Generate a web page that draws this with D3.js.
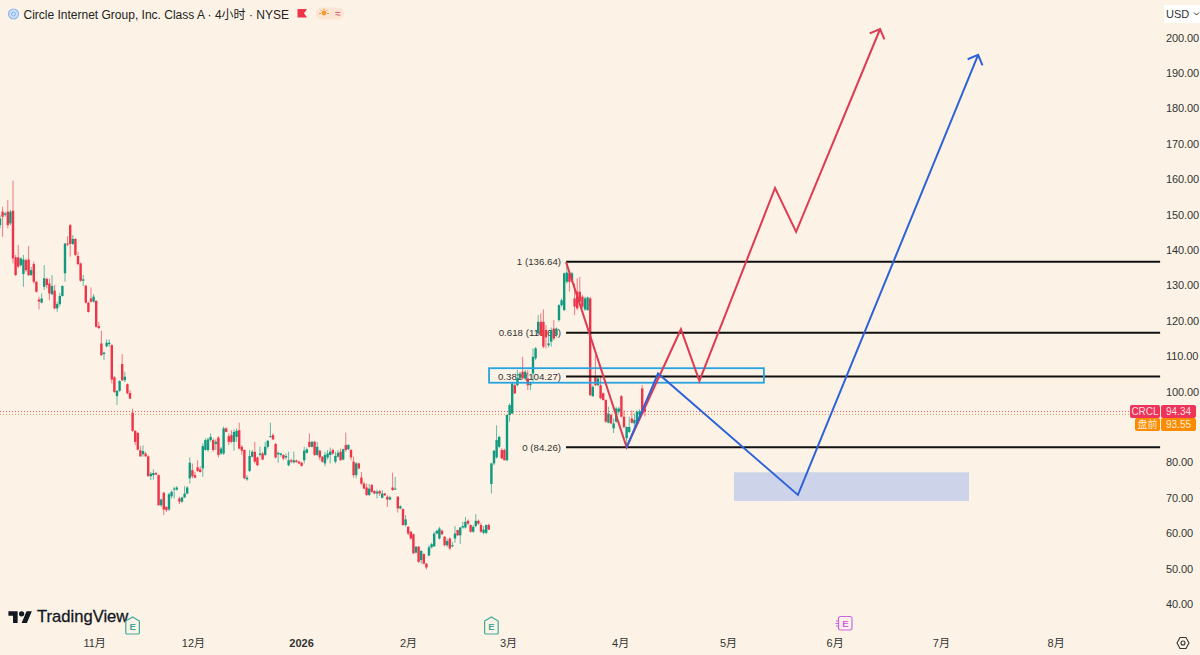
<!DOCTYPE html>
<html>
<head>
<meta charset="utf-8">
<script src="https://cdn.jsdelivr.net/npm/d3@7"></script>
<style>
  html, body { margin: 0; padding: 0; background: #fcf3e6; }
  svg { display: block; }
  text { font-family: "Liberation Sans", "Noto Sans CJK SC", sans-serif; }
</style>
</head>
<body>
<script>
// OHLC of the 4h bars, ten per row
const barOpen = [
  147.0,150.8,149.9,150.8,147.5,151.1,137.9,137.9,135.7,133.2,
  137.1,137.3,132.9,136.0,131.0,126.0,125.1,129.6,131.8,130.5,
  127.5,128.5,123.5,124.7,127.0,133.4,141.8,147.0,141.7,143.1,
  138.3,136.2,131.3,129.9,125.1,126.3,125.4,125.6,118.5,113.6,
  110.6,112.8,113.4,113.1,104.0,98.7,100.2,107.8,103.2,102.1,
  99.6,94.0,88.9,88.3,83.4,82.3,82.5,81.7,76.1,76.4,
  77.0,76.4,67.9,71.4,67.4,66.7,70.4,72.3,72.3,69.8,
  68.9,70.1,71.2,75.5,77.8,76.4,78.6,78.0,78.3,83.5,
  83.5,86.3,86.3,85.2,87.0,82.5,82.5,89.6,87.4,87.7,
  85.8,87.2,89.1,84.4,83.5,75.2,77.6,81.6,83.0,81.4,
  82.1,82.5,82.1,84.4,87.2,87.7,85.2,82.3,82.1,82.1,
  81.4,79.2,80.6,80.0,80.5,80.2,79.9,80.6,82.7,85.8,
  84.4,85.8,82.1,83.3,81.6,79.7,81.4,82.1,83.5,80.2,
  81.6,83.0,80.8,84.9,83.7,83.5,80.2,76.4,79.7,75.7,
  74.0,72.9,70.8,73.6,71.9,71.2,71.9,70.0,71.2,70.3,
  69.5,72.9,72.4,70.3,67.0,66.8,62.3,61.8,60.4,59.7,
  54.5,56.2,52.4,54.1,51.4,53.7,56.0,56.3,59.9,58.5,
  60.7,59.0,56.6,58.5,56.3,58.5,60.9,59.4,61.6,61.6,
  63.5,62.3,60.4,62.0,63.5,62.3,60.1,60.1,62.3,73.9,
  79.7,81.4,84.4,83.5,83.5,80.6,93.4,93.8,101.8,101.8,
  103.7,105.6,103.7,103.7,101.8,105.1,109.4,116.4,119.7,119.7,
  117.4,113.1,114.1,117.8,116.0,120.2,124.4,123.0,131.0,133.4,
  131.5,126.3,128.2,128.2,126.8,123.2,123.0,126.3,98.7,104.2,
  101.8,101.8,99.5,97.6,91.2,93.4,89.6,91.5,94.3,98.7,
  92.9,86.8,88.6,92.4,91.0,91.0,93.4,100.9,95.2
];
const barHigh = [
  149.8,152.2,150.8,154.1,151.3,159.6,138.6,141.4,137.9,138.6,
  137.6,141.1,135.2,136.7,131.2,126.8,127.7,135.7,132.2,131.9,
  132.9,130.1,125.4,127.9,130.1,142.0,143.9,147.3,144.2,143.3,
  139.5,136.4,132.9,130.1,125.4,129.4,127.5,125.8,119.7,117.2,
  111.2,114.7,114.7,113.4,104.4,100.4,103.2,110.6,105.6,102.3,
  100.4,95.2,89.1,88.6,84.6,84.8,83.0,82.0,77.3,78.0,
  77.3,76.6,69.8,71.7,67.6,71.4,72.1,73.1,73.3,70.3,
  70.3,73.3,73.3,81.4,79.7,77.3,80.6,78.9,85.4,86.8,
  87.0,88.2,86.8,86.5,87.4,84.4,90.1,89.9,88.2,89.1,
  89.3,89.6,91.2,84.9,83.7,76.4,83.5,83.5,85.8,81.6,
  84.4,83.0,85.8,86.3,91.2,88.2,85.5,83.0,82.7,82.3,
  82.5,83.0,81.1,83.0,80.8,80.5,80.2,84.4,84.2,88.2,
  86.1,86.1,85.8,83.5,81.8,83.0,83.5,84.2,83.9,83.0,
  83.5,83.9,83.9,88.4,85.2,83.7,81.6,80.1,79.9,77.3,
  74.5,74.0,73.9,73.9,72.2,72.3,72.2,72.2,71.4,70.7,
  70.5,77.1,75.9,70.5,67.9,67.0,65.1,62.0,60.6,59.9,
  56.3,56.3,55.2,54.3,51.6,56.6,57.3,60.3,60.9,61.8,
  61.0,59.2,58.5,58.8,57.6,62.0,61.0,61.8,63.2,64.6,
  63.9,62.5,62.3,65.4,63.9,62.9,62.0,62.5,62.7,79.9,
  83.5,90.5,87.5,84.0,83.9,93.5,96.7,102.5,102.3,106.1,
  105.6,109.8,106.1,106.1,102.8,112.2,112.6,121.6,122.1,123.2,
  118.8,116.4,118.1,120.2,118.1,124.7,126.3,133.6,136.6,133.6,
  133.8,130.5,132.0,132.4,127.3,126.8,126.8,126.8,101.8,110.3,
  104.4,104.4,99.7,97.8,95.7,93.8,92.4,95.7,95.7,99.0,
  94.7,90.2,92.9,94.7,93.8,94.7,95.0,101.8,96.0
];
const barLow = [
  146.1,143.7,149.4,146.1,147.0,136.2,132.6,134.8,135.3,129.6,
  133.8,132.6,132.6,130.5,127.9,123.2,124.9,128.7,129.1,125.8,
  127.2,123.2,122.5,124.1,126.8,131.0,141.1,138.1,141.4,138.3,
  135.7,131.0,129.8,124.9,122.3,125.1,125.1,118.1,117.8,110.0,
  108.9,112.5,112.6,102.3,99.6,96.2,99.9,103.0,102.7,99.3,
  97.9,88.6,84.8,83.4,81.6,81.6,81.6,75.9,75.0,75.1,
  76.4,67.7,67.4,65.1,66.0,66.3,69.8,69.8,72.0,68.2,
  68.6,69.9,71.0,74.0,75.5,75.5,77.3,77.1,75.9,83.3,
  83.0,85.8,83.0,83.5,81.4,82.1,82.1,88.5,84.9,85.4,
  83.3,85.8,83.7,82.1,75.2,74.8,77.3,81.4,79.7,78.9,
  81.6,80.6,81.8,83.9,87.0,86.3,81.1,79.9,81.6,80.6,
  80.8,78.9,79.7,79.7,79.9,79.5,78.8,79.7,82.5,84.2,
  84.2,81.8,81.8,80.6,79.9,78.9,80.8,79.7,82.1,79.7,
  81.4,80.5,80.6,83.0,83.5,80.6,75.7,75.5,78.0,73.6,
  72.4,70.5,70.5,71.4,71.0,69.8,70.5,69.8,70.5,67.4,
  69.3,71.9,72.2,65.8,66.7,62.1,61.8,59.4,58.2,54.1,
  54.3,51.6,51.4,51.2,49.8,53.5,55.7,56.1,59.7,58.2,
  59.4,56.3,56.1,55.2,56.0,57.3,59.2,56.9,61.3,61.3,
  62.3,60.1,60.1,61.6,62.3,60.1,59.7,59.7,60.9,71.2,
  79.2,81.1,84.0,81.0,80.6,80.3,91.5,93.6,99.3,101.5,
  103.4,103.4,103.2,100.4,100.4,102.8,108.9,115.9,115.7,112.2,
  112.2,112.5,112.7,114.5,115.3,119.7,124.0,122.8,130.5,128.2,
  131.0,121.6,123.0,124.9,123.5,122.8,122.8,98.7,98.5,101.5,
  101.5,97.8,97.4,91.2,91.0,90.8,88.3,91.2,93.8,92.7,
  89.6,84.4,88.3,91.0,88.6,90.5,92.9,93.6,93.0
];
const barClose = [
  148.9,149.4,150.3,147.0,150.8,137.6,132.9,135.3,137.6,137.3,
  134.3,132.9,134.3,131.0,128.2,125.4,126.3,132.0,130.1,127.7,
  129.8,123.5,124.7,127.0,129.8,141.8,141.5,141.7,143.1,138.6,
  136.0,131.3,131.7,125.1,122.5,125.4,126.8,118.3,117.9,110.3,
  111.0,113.8,113.8,103.4,99.9,100.2,103.0,103.2,104.2,99.5,
  98.0,88.9,85.8,83.6,81.7,83.2,81.7,76.1,76.8,77.0,
  76.6,67.9,69.5,66.7,66.5,71.0,71.7,72.6,72.9,68.9,
  70.1,71.2,72.9,79.9,76.1,75.7,77.6,77.3,84.6,86.3,
  86.5,87.2,83.5,85.8,82.1,83.9,89.6,88.6,85.8,85.8,
  88.6,88.9,83.9,83.3,75.5,75.7,81.8,83.0,80.2,79.2,
  82.5,80.8,84.4,86.1,87.4,86.5,81.4,82.7,82.5,81.1,
  81.8,80.6,80.2,80.6,80.1,79.7,79.0,83.3,83.7,84.4,
  85.8,82.1,84.4,81.4,80.2,82.1,82.5,83.0,82.5,81.8,
  82.7,80.6,83.7,83.5,84.9,81.4,76.4,79.7,78.3,74.0,
  72.6,70.8,72.6,71.7,71.2,71.7,71.2,71.2,70.7,69.5,
  70.1,72.2,72.6,67.0,67.6,62.3,63.9,59.9,58.5,54.3,
  56.2,51.9,55.0,51.4,50.3,56.0,56.9,59.9,60.7,61.3,
  59.7,56.6,57.8,55.7,56.6,59.9,59.4,61.6,62.0,63.2,
  62.7,60.4,61.8,63.5,62.7,60.4,61.0,62.3,61.0,79.7,
  83.3,86.3,87.2,81.1,80.6,93.4,96.2,102.3,99.5,103.7,
  105.1,103.7,105.6,101.8,102.3,109.8,112.2,119.7,115.9,112.7,
  115.3,113.6,117.4,115.0,117.8,124.4,125.8,133.4,133.6,131.0,
  133.4,124.0,123.5,125.4,124.0,126.3,126.6,99.0,101.3,101.8,
  103.7,98.1,97.6,91.5,93.8,91.0,91.0,95.2,95.2,92.9,
  90.0,90.0,90.0,91.2,92.0,94.3,94.5,93.8,94.34
];

// 90.00 sits under the price tags in the original, so it is left out
const priceTicks = [200,190,180,170,160,150,140,130,120,110,100,80,70,60,50,40];
const monthBars = [36.2,74.2,115.8,156.9,195.4,238.5,280,321,361.9,406];
const monthLabels = ["11月","12月","2026","2月","3月","4月","5月","6月","7月","8月"];

const fibLabels = ["1","0.618","0.382","0"];
const fibPrices = [136.64,116.63,104.27,84.26];
const fibBars = [217.7,446.2];

// hand drawn scenarios: bar index / price
const redBars = [217.7,241,261.9,269,298.1,306.2,338.5];
const redPrices = [136.64,84.26,117.6,103.0,157.5,145.1,202.4];
const blueBars = [241,253.1,306.9,376.2];
const bluePrices = [84.26,105.1,70.8,195.1];

const boxBars = [188.1,293.8];
const boxPrices = [106.6,102.5];
const zoneBars = [282.3,372.7];
const zonePrices = [77.2,69.1];

const lastPrice = 94.34;
const preMarketPrice = 93.55;
const earningsBars = [51,189];
const nextEarningsBar = 325;

const width = 1200, height = 655;
const UP = "#0f9a80", DOWN = "#ee3448", RED = "#de3a52", BLUE = "#2f62d8", INK = "#333";

const x = d3.scaleLinear().domain([0, 461.54]).range([0, 1200]);
const y = d3.scaleLinear().domain([40, 200]).range([604, 37.5]);

const svg = d3.select("body").append("svg")
  .attr("width", width).attr("height", height)
  .attr("viewBox", [0, 0, width, height]);

svg.append("rect").attr("width", width).attr("height", height).attr("fill", "#fcf3e6");

const defs = svg.append("defs");
[["arrow-red", RED], ["arrow-blue", BLUE]].forEach(([id, color]) => {
  defs.append("marker").attr("id", id)
    .attr("viewBox", "-10 -10 12 20").attr("refX", 0).attr("refY", 0)
    .attr("markerWidth", 12).attr("markerHeight", 20)
    .attr("markerUnits", "userSpaceOnUse").attr("orient", "auto")
    .append("path").attr("d", "M-8,-8L0,0L-8,8")
    .attr("fill", "none").attr("stroke", color).attr("stroke-width", 2);
});

// zone below the candles
svg.append("rect")
  .attr("x", x(zoneBars[0])).attr("y", y(zonePrices[0]))
  .attr("width", x(zoneBars[1]) - x(zoneBars[0]))
  .attr("height", y(zonePrices[1]) - y(zonePrices[0]))
  .attr("fill", "#cdd3e9");

// fib labels go under the candles, they get covered in the original
svg.append("g").selectAll("text").data(fibPrices).join("text")
  .attr("x", x(fibBars[0]) - 5)
  .attr("y", d => y(d) + 3.5)
  .attr("text-anchor", "end")
  .attr("font-size", 9.7)
  .attr("fill", INK)
  .text((d, i) => `${fibLabels[i]} (${d.toFixed(2)})`);

// last + premarket dotted lines
svg.append("line")
  .attr("x1", 0).attr("x2", 1130).attr("y1", y(lastPrice)).attr("y2", y(lastPrice))
  .attr("stroke", "#e2506a").attr("stroke-width", 1).attr("stroke-dasharray", "1 2");
svg.append("line")
  .attr("x1", 0).attr("x2", 1135).attr("y1", y(preMarketPrice)).attr("y2", y(preMarketPrice))
  .attr("stroke", "#f5a04a").attr("stroke-width", 1).attr("stroke-dasharray", "1 2");

const candles = svg.append("g").selectAll("g").data(barClose).join("g")
  .attr("fill", (d, i) => d >= barOpen[i] ? UP : DOWN)
  .attr("stroke", (d, i) => d >= barOpen[i] ? UP : DOWN);

candles.append("line")
  .attr("x1", (d, i) => x(i)).attr("x2", (d, i) => x(i))
  .attr("y1", (d, i) => y(barHigh[i])).attr("y2", (d, i) => y(barLow[i]))
  .attr("stroke-width", 1).attr("stroke-opacity", 0.65);

candles.append("rect")
  .attr("x", (d, i) => x(i) - 1.2)
  .attr("width", 2.4)
  .attr("y", (d, i) => y(Math.max(d, barOpen[i])))
  .attr("height", (d, i) => Math.max(1, Math.abs(y(d) - y(barOpen[i]))))
  .attr("stroke", "none");

// fib lines
svg.append("g").selectAll("line").data(fibPrices).join("line")
  .attr("x1", x(fibBars[0])).attr("x2", x(fibBars[1]))
  .attr("y1", d => y(d)).attr("y2", d => y(d))
  .attr("stroke", "#111").attr("stroke-width", 2);

// sky box
svg.append("rect")
  .attr("x", x(boxBars[0])).attr("y", y(boxPrices[0]))
  .attr("width", x(boxBars[1]) - x(boxBars[0]))
  .attr("height", y(boxPrices[1]) - y(boxPrices[0]))
  .attr("fill", "none").attr("stroke", "#27a3e0").attr("stroke-width", 1.8);

const line = d3.line().x(d => x(d[0])).y(d => y(d[1]));

svg.append("path")
  .attr("d", line(d3.zip(redBars, redPrices)))
  .attr("fill", "none").attr("stroke", RED).attr("stroke-width", 2)
  .attr("marker-end", "url(#arrow-red)");

svg.append("path")
  .attr("d", line(d3.zip(blueBars, bluePrices)))
  .attr("fill", "none").attr("stroke", BLUE).attr("stroke-width", 2)
  .attr("marker-end", "url(#arrow-blue)");

// axes
const yAxis = svg.append("g")
  .attr("transform", "translate(1162,0)")
  .call(d3.axisRight(y).tickValues(priceTicks).tickSize(0).tickPadding(4).tickFormat(d => d.toFixed(2)));
yAxis.select(".domain").remove();
yAxis.selectAll("text").attr("font-size", 11).attr("fill", INK)
  .style("font-family", '"Liberation Sans"').attr("letter-spacing", -0.1);

const xAxis = svg.append("g")
  .attr("transform", "translate(0,639)")
  .call(d3.axisBottom(x).tickValues(monthBars).tickSize(0).tickPadding(0)
    .tickFormat((d, i) => monthLabels[i]));
xAxis.select(".domain").remove();
xAxis.selectAll("text")
  .attr("font-size", 11).attr("fill", INK)
  .style("font-family", '"Liberation Sans", "Noto Sans CJK SC"')
  .attr("font-weight", (d, i) => monthLabels[i] === "2026" ? 700 : 400);

// USD box
svg.append("rect").attr("x", 1164).attr("y", 5).attr("width", 36).attr("height", 18).attr("fill", "#fff");
svg.append("text").attr("x", 1166).attr("y", 18).attr("font-size", 11).attr("fill", INK).text("USD");
svg.append("path").attr("d", "M1194,12.5l2.5,2.5l2.5,-2.5").attr("fill", "none").attr("stroke", INK).attr("stroke-width", 1);

// last price tags
function priceTag(top, left, color, name, value) {
  svg.append("rect").attr("x", left).attr("y", top).attr("width", 1160 - left).attr("height", 13).attr("rx", 2).attr("fill", color);
  svg.append("rect").attr("x", 1161).attr("y", top).attr("width", 35).attr("height", 13).attr("rx", 2).attr("fill", color);
  svg.append("text").attr("x", (left + 1160) / 2).attr("y", top + 10).attr("text-anchor", "middle")
    .attr("font-size", 10).attr("fill", "#fff").attr("fill-opacity", 0.85).text(name);
  svg.append("text").attr("x", 1178.5).attr("y", top + 10).attr("text-anchor", "middle")
    .attr("font-size", 10).attr("fill", "#fff").attr("fill-opacity", 0.85).text(value.toFixed(2));
}
priceTag(405, 1130, "#ee3458", "CRCL", lastPrice);
priceTag(418, 1135, "#fb8c00", "盘前", preMarketPrice);

// title row
svg.append("circle").attr("cx", 13.5).attr("cy", 14).attr("r", 5).attr("fill", "#cfe0fb").attr("stroke", "#8fb8ee").attr("stroke-width", 1.2);
svg.append("circle").attr("cx", 13.5).attr("cy", 14).attr("r", 2).attr("fill", "none").attr("stroke", "#6fa8e8").attr("stroke-width", 0.8);
svg.append("text").attr("x", 23.5).attr("y", 18.5).attr("font-size", 12).attr("fill", "#222")
  .text("Circle Internet Group, Inc. Class A · 4小时 · NYSE");
svg.append("path").attr("d", "M297.5,9H307L304,13.2L307,17.5H297.5Z").attr("fill", "#ee3448");
svg.append("rect").attr("x", 316).attr("y", 7.5).attr("width", 28).attr("height", 12).attr("rx", 6).attr("fill", "#fbe5d4");
svg.append("circle").attr("cx", 324).attr("cy", 13).attr("r", 2.4).attr("fill", "#f79a2e");
svg.append("path").attr("d", "M319,13.5h2M327,13.5h2M324,8.5v1.5M320.5,9.8l1,1M327.5,9.8l-1,1").attr("stroke", "#f79a2e").attr("stroke-width", 1);
svg.append("text").attr("x", 338).attr("y", 17).attr("text-anchor", "middle").attr("font-size", 10).attr("fill", "#d2356a").text("≈");

// TradingView mark
const logo = svg.append("g").attr("transform", "translate(8.4,608.5) scale(0.66)").attr("fill", "#131722");
logo.append("path").attr("d", "M14 22H7V11H0V4h14v18zM28 22h-8l7.5-18h8L28 22z");
logo.append("circle").attr("cx", 20).attr("cy", 8).attr("r", 4);
svg.append("text").attr("x", 37).attr("y", 622).attr("font-size", 16.6).attr("fill", "#131722")
  .attr("stroke", "#131722").attr("stroke-width", 0.3).text("TradingView");

// earnings markers
const earnings = svg.append("g").selectAll("g").data(earningsBars).join("g")
  .attr("transform", d => `translate(${x(d)},625.5)`);
earnings.append("path")
  .attr("d", "M-6.8,-4.5L0,-8.5L6.8,-4.5V7.5Q6.8,8.5 5.8,8.5H-5.8Q-6.8,8.5 -6.8,7.5Z")
  .attr("fill", "#fcf3e6").attr("stroke", "#3fa99b").attr("stroke-width", 1.2);
earnings.append("text").attr("text-anchor", "middle").attr("y", 4).attr("font-size", 9.5)
  .attr("font-weight", 700).attr("fill", "#3fa99b").text("E");

const nextE = svg.append("g").attr("transform", `translate(${x(nextEarningsBar)},623)`);
nextE.append("rect").attr("x", -6.5).attr("y", -6.5).attr("width", 13.5).attr("height", 13.5).attr("rx", 2)
  .attr("fill", "#fcf3e6").attr("stroke", "#cf63e6").attr("stroke-width", 1.2);
nextE.append("path").attr("d", "M-9,-2h3M-9.5,0.5h3M-9,3h3").attr("stroke", "#cf63e6").attr("stroke-width", 1);
nextE.append("text").attr("x", 0.3).attr("text-anchor", "middle").attr("y", 3.5).attr("font-size", 9.5)
  .attr("font-weight", 700).attr("fill", "#cf63e6").text("E");

// settings icon
svg.append("path").attr("d", "M1177,643L1180,637.5H1186L1189,643L1186,648.5H1180Z")
  .attr("fill", "none").attr("stroke", "#333").attr("stroke-width", 1.1).attr("stroke-linejoin", "round");
svg.append("circle").attr("cx", 1183).attr("cy", 643).attr("r", 2).attr("fill", "none").attr("stroke", "#333").attr("stroke-width", 1.1);
</script>
</body>
</html>
